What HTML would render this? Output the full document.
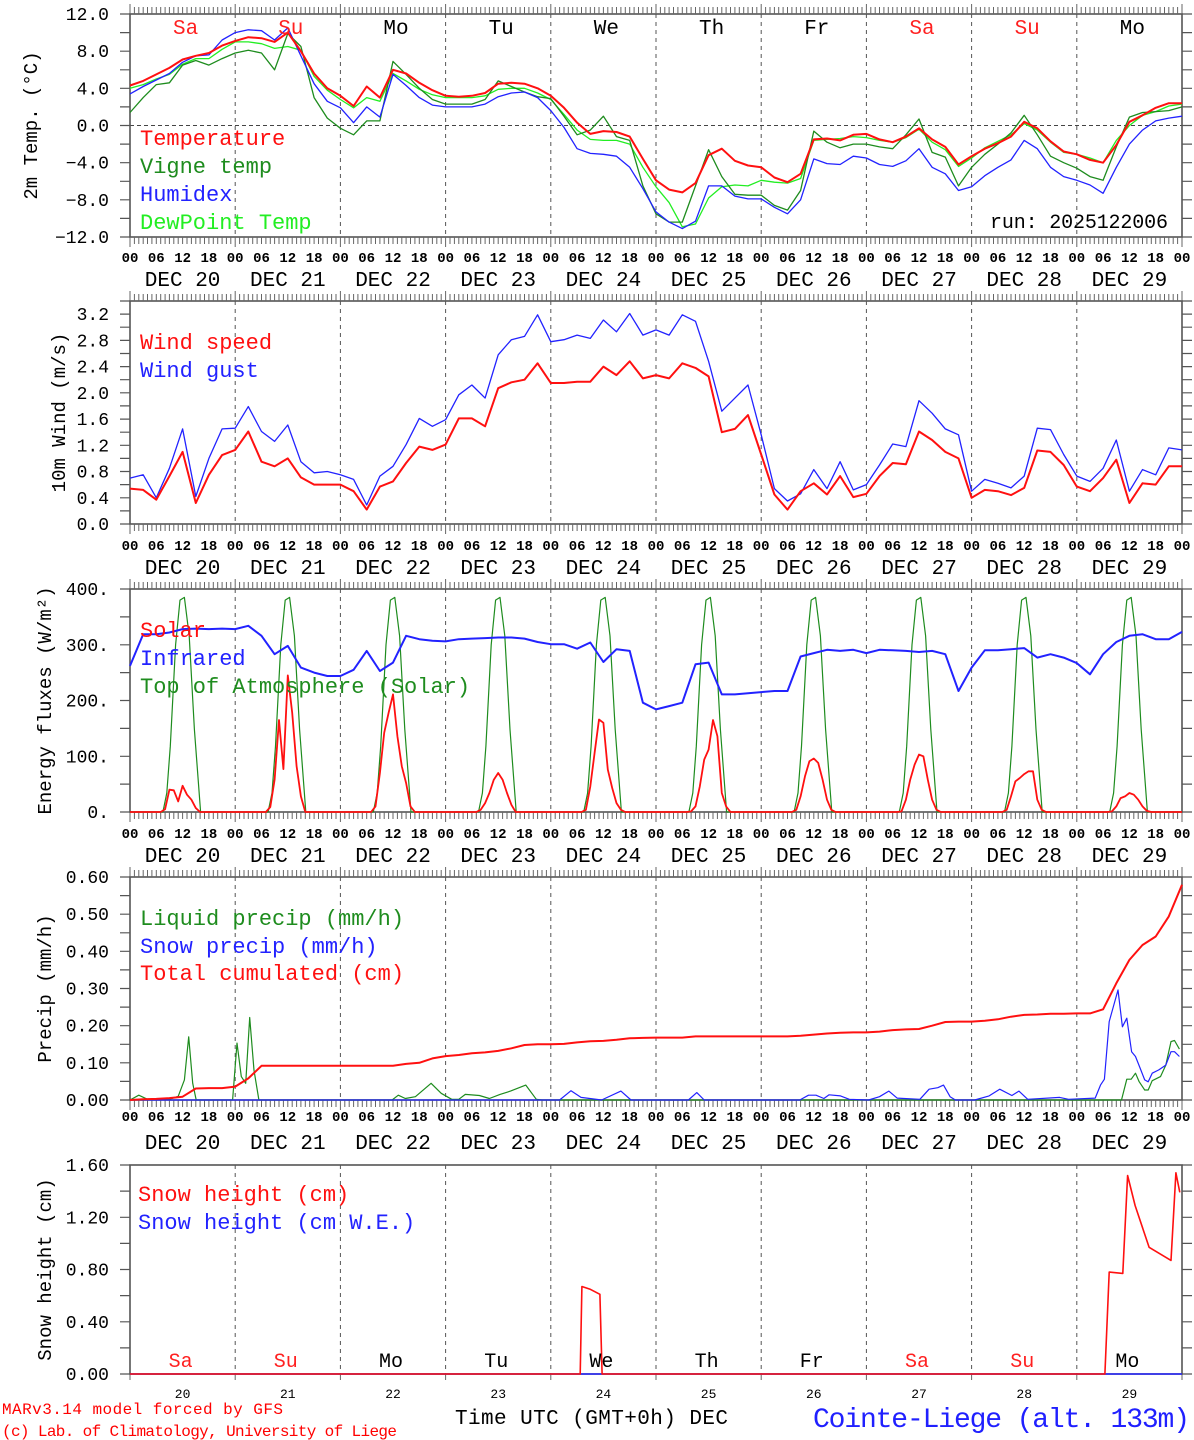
<!DOCTYPE html>
<html><head><meta charset="utf-8"><title>MAR meteogram Cointe-Liege</title>
<style>
html,body{margin:0;padding:0;background:#fff;}
svg{display:block;}
text{font-family:"Liberation Mono","DejaVu Sans Mono",monospace;}
</style></head>
<body>
<svg id="chart" xmlns="http://www.w3.org/2000/svg" width="1194" height="1440" viewBox="0 0 1194 1440">
<rect x="0" y="0" width="1194" height="1440" fill="#fff"/>
<text x="2" y="1414" font-size="16" fill="#ff0000" textLength="281">MARv3.14 model forced by GFS</text>
<text x="2" y="1436" font-size="16" fill="#ff0000" textLength="395">(c) Lab. of Climatology, University of Liege</text>
<text x="455" y="1424" font-size="21" fill="#000" textLength="273">Time UTC (GMT+0h) DEC</text>
<text x="813" y="1427" font-size="28" fill="#2020ff" textLength="377">Cointe-Liege (alt. 133m)</text>
<text x="990" y="228" font-size="20" fill="#000" textLength="178">run: 2025122006</text>
</svg>
<script>
// ---------- DATA (3-hourly, Dec 20 00 UTC -> Dec 30 00 UTC) ----------
const tempRed = [4.3,4.8,5.5,6.2,7.1,7.5,7.8,8.6, 9.1,9.5,9.4,9.0,10.0,8.0,5.6,4.0, 3.2,2.1,4.2,3.0,6.0,5.6,4.6,3.8, 3.2,3.1,3.2,3.5,4.5,4.6,4.5,4.0, 3.2,1.9,0.3,-0.9,-0.6,-0.7,-1.2,-3.6, -5.9,-6.9,-7.2,-6.2,-3.2,-2.5,-3.8,-4.3, -4.5,-5.6,-6.1,-5.2,-1.5,-1.4,-1.6,-1.0, -0.9,-1.5,-1.8,-1.2,-0.3,-1.5,-2.3,-4.2, -3.3,-2.5,-1.9,-1.2,0.4,-0.3,-1.7,-2.8, -3.1,-3.7,-4.0,-2.1,0.4,1.1,1.9,2.4,2.4];
const tempVigne = [1.4,3.0,4.4,4.6,6.5,7.0,6.5,7.2, 7.8,8.1,7.8,6.0,9.9,8.5,3.0,0.8, -0.3,-1.0,0.5,0.5,6.9,5.5,4.0,2.8, 2.3,2.3,2.3,2.8,4.8,4.2,3.6,3.1, 2.9,1.0,-1.0,-0.5,1.0,-1.2,-1.6,-6.5, -9.5,-10.4,-10.4,-6.5,-2.6,-5.5,-7.4,-7.5, -7.5,-8.6,-9.1,-7.0,-0.6,-1.8,-2.4,-2.0, -2.0,-2.3,-2.5,-1.0,0.7,-2.9,-3.4,-6.5, -4.5,-3.1,-2.0,-0.8,1.1,-1.0,-3.3,-4.0, -4.6,-5.5,-5.9,-2.3,0.9,1.4,1.5,1.6,2.0];
const tempHumidex = [3.4,4.2,4.9,5.6,6.8,7.5,7.6,9.2, 10.0,10.3,10.2,9.2,10.5,7.5,4.5,2.6, 1.9,0.3,2.0,0.9,5.5,4.3,3.0,2.2, 2.0,2.0,2.0,2.3,3.1,3.5,3.6,3.0, 1.6,-0.2,-2.5,-3.0,-3.1,-3.3,-4.5,-6.8, -9.3,-10.4,-11.1,-10.3,-6.5,-6.5,-7.6,-7.9, -7.9,-8.8,-9.5,-8.0,-3.6,-4.1,-4.2,-3.3, -3.5,-4.2,-4.4,-3.8,-2.5,-4.5,-5.2,-7.0, -6.6,-5.4,-4.5,-3.7,-1.6,-2.5,-4.5,-5.5, -5.9,-6.4,-7.3,-4.5,-2.0,-0.5,0.5,0.8,1.0];
const tempDew = [4.0,4.4,5.0,5.5,6.6,7.2,7.2,8.2, 9.0,9.0,8.8,8.3,8.5,8.1,5.3,3.8, 2.8,1.9,3.0,2.6,5.6,4.8,3.9,3.3, 3.0,3.0,3.0,3.2,3.9,4.0,4.0,3.5, 2.8,1.2,-0.5,-1.5,-1.6,-1.6,-2.0,-4.5, -6.6,-8.3,-10.9,-10.6,-7.8,-6.6,-6.4,-6.5, -5.9,-6.1,-6.2,-5.7,-1.6,-1.5,-1.4,-1.2, -1.3,-1.6,-1.8,-1.3,-0.4,-1.8,-2.6,-4.4, -3.5,-2.4,-1.7,-1.0,0.2,-0.5,-1.8,-2.9, -3.1,-3.5,-4.0,-1.6,0.0,1.1,1.5,2.1,2.3];
const windSpeed = [0.54,0.52,0.37,0.73,1.1,0.32,0.75,1.05, 1.13,1.41,0.95,0.88,1.0,0.71,0.6,0.6, 0.6,0.5,0.22,0.57,0.65,0.93,1.18,1.13, 1.21,1.61,1.61,1.49,2.07,2.16,2.2,2.45, 2.15,2.15,2.17,2.17,2.4,2.27,2.48,2.22, 2.27,2.22,2.45,2.38,2.25,1.4,1.45,1.66, 1.06,0.45,0.22,0.5,0.62,0.45,0.73,0.41, 0.46,0.73,0.93,0.91,1.41,1.28,1.1,1.0, 0.4,0.52,0.5,0.44,0.55,1.12,1.1,0.9, 0.57,0.5,0.7,0.98,0.32,0.62,0.6,0.88,0.88];
const windGust = [0.7,0.75,0.4,0.85,1.45,0.42,1.0,1.45, 1.46,1.79,1.41,1.26,1.51,0.95,0.78,0.8, 0.75,0.68,0.29,0.73,0.88,1.21,1.61,1.49, 1.59,1.97,2.12,1.92,2.58,2.81,2.86,3.19, 2.78,2.81,2.88,2.83,3.11,2.93,3.21,2.88, 2.96,2.88,3.19,3.09,2.48,1.72,1.92,2.12, 1.36,0.54,0.35,0.46,0.83,0.54,0.95,0.52, 0.6,0.9,1.22,1.18,1.88,1.69,1.45,1.36, 0.5,0.68,0.62,0.55,0.73,1.46,1.44,1.06, 0.73,0.65,0.85,1.28,0.5,0.83,0.75,1.16,1.13];
const infrared = [262,319,319,322,328,329,328,329, 328,334,316,283,298,259,250,244, 244,255,289,253,268,316,310,307, 306,310,311,312,313,313,311,305, 301,301,293,304,269,292,289,196, 184,190,196,265,268,211,211,213, 215,217,217,279,285,291,289,291, 285,291,290,289,287,289,283,217, 259,290,290,292,294,277,283,277, 267,247,283,305,316,319,310,310,323];
const precipCum = [0,0.002,0.003,0.005,0.009,0.031,0.032,0.032, 0.036,0.058,0.092,0.092,0.092,0.092,0.092,0.092, 0.092,0.092,0.092,0.092,0.092,0.097,0.100,0.112, 0.118,0.121,0.126,0.128,0.132,0.139,0.148,0.150, 0.150,0.151,0.155,0.158,0.159,0.162,0.166,0.167, 0.168,0.168,0.168,0.171,0.171,0.171,0.171,0.171, 0.171,0.171,0.171,0.173,0.176,0.179,0.181,0.182, 0.182,0.184,0.188,0.190,0.191,0.200,0.210,0.211, 0.211,0.213,0.217,0.224,0.229,0.230,0.232,0.232, 0.233,0.233,0.244,0.314,0.377,0.417,0.440,0.494,0.579];
// solar: hourly daylight values per day (hours 7..17)
const solarHours = [7,8,9,10,11,12,13,14,15,16,17];
const solarByDay = [
 [0,5,40,39,19,47,31,22,7,0,0],
 [0,9,58,165,77,245,178,82,28,0,0],
 [0,10,70,142,178,211,136,82,52,10,0],
 [0,4,16,34,58,70,58,34,13,0,0],
 [0,4,46,106,166,160,76,43,16,4,0],
 [0,1,10,46,94,112,165,136,34,10,0],
 [0,4,28,64,91,96,88,58,22,4,0],
 [0,1,22,58,85,103,100,58,22,4,0],
 [0,4,28,55,61,68,73,73,22,4,0],
 [0,1,10,25,28,34,31,22,10,2,0]];
// top of atmosphere solar: daily profile hours and values
const toaHours = [7.5,8.4,9.2,10.4,11.4,12.4,13.5,14.7,16.1];
const toaValues = [0,34,118,300,380,385,316,148,0];
// precip (hour since start, value)
const liqH = [0,2,4,9,11,12.4,13.4,14.3,15.1,23.4,24.4,25.4,26.4,27.3,28.3,29.4,59.8,61.2,62.8,65.1,68.7,71,73.4,75,76.5,79.7,82,84.4,86.8,90.3,92.7,94,226.2,227.4,228.4,229.4,230.2,231.5,232.3,233.2,235.1,236.3,237.5,238.3,239.4];
const liqV = [0,0.013,0.002,0.002,0.01,0.054,0.17,0.045,0,0,0.153,0.063,0.045,0.222,0.08,0,0,0.013,0.004,0.009,0.045,0.018,0.002,0.002,0.015,0.012,0.004,0.015,0.024,0.04,0.002,0,0,0.056,0.056,0.072,0.05,0.027,0.027,0.052,0.063,0.094,0.157,0.16,0.137];
const snowH = [0,98,100.6,102.9,107.6,112,114.3,127.4,129.3,131,152.8,154.8,156.5,158.3,159.5,162.1,164.1,168.5,171,173.1,175,180.2,182.3,184.3,185.6,187.1,188.3,192.7,196,198.4,201.2,202.8,204.8,212.1,214.1,220.2,221.4,222.3,223.4,225.4,226.4,227.4,228.5,229.4,230.6,231.5,232.3,233.2,234.7,236.3,237.5,238.3,239.4];
const snowV = [0,0,0.025,0.007,0,0.024,0,0,0.02,0,0,0.013,0.013,0.004,0.014,0.011,0.002,0,0.009,0.024,0.005,0.002,0.029,0.033,0.04,0.009,0,0,0.011,0.029,0.012,0.024,0.002,0.007,0.002,0.005,0.04,0.056,0.211,0.296,0.197,0.22,0.13,0.117,0.081,0.054,0.049,0.072,0.081,0.094,0.13,0.13,0.117];
// snow height (hour since start, cm)
const snowHtH = [0,102.7,103.1,104.9,107.2,107.7,222.4,223.4,226.5,227.6,229.3,232.5,237.5,238.6,239.5];
const snowHtV = [0,0,0.67,0.65,0.61,0,0,0.78,0.77,1.52,1.29,0.97,0.87,1.54,1.39];
const snowWeH = [0,240];
const snowWeV = [0,0];
const dayNames = ["Sa","Su","Mo","Tu","We","Th","Fr","Sa","Su","Mo"];
const dayNums = ["20","21","22","23","24","25","26","27","28","29"];
const hourTickLabels = ["00","06","12","18"];

// ---------- RENDERING ----------
const svg = document.getElementById('chart');
const NS = 'http://www.w3.org/2000/svg';
const X0 = 130, X1 = 1182, HOURS = 240;
function X(h){ return X0 + h*(X1-X0)/HOURS; }
function mk(tag, attrs, parent){
  const el = document.createElementNS(NS, tag);
  for (const k in attrs) el.setAttribute(k, attrs[k]);
  (parent||svg).appendChild(el);
  return el;
}
function tag(el, name){
  
  
  return el;
}
const panels = [
 {id:'temp', top:14, bot:237, min:-12, max:12, major:4, minor:2, fmt:v=>(v<0?'\u2212':'')+Math.abs(v).toFixed(1), hourY:262, dayY:286, title:'2m Temp. (\u00B0C)', titleX:32},
 {id:'wind', top:301, bot:524, min:0, max:3.4, major:0.4, minor:0.2, labelMax:3.2, fmt:v=>v.toFixed(1), hourY:550, dayY:574, title:'10m Wind (m/s)', titleX:60},
 {id:'energy', top:589, bot:812, min:0, max:400, major:100, minor:50, fmt:v=>v.toFixed(0)+'.', hourY:838, dayY:862, title:'Energy fluxes (W/m\u00B2)', titleX:46},
 {id:'precip', top:877, bot:1100, min:0, max:0.6, major:0.1, minor:0.05, fmt:v=>v.toFixed(2), hourY:1121, dayY:1149, title:'Precip (mm/h)', titleX:46},
 {id:'snow', top:1165, bot:1374, min:0, max:1.6, major:0.4, minor:0.2, fmt:v=>v.toFixed(2), hourY:null, dayY:null, title:'Snow height (cm)', titleX:46}
];
function Yf(p){ return v => p.bot - (v-p.min)/(p.max-p.min)*(p.bot-p.top); }

panels.forEach((p, pi) => {
  const Y = Yf(p);
  const g = tag(mk('g', {}), p.id + '-panel');
  // day separators
  for (let d=1; d<10; d++){
    const l = mk('line', {x1:X(d*24), x2:X(d*24), y1:p.top, y2:p.bot, stroke:'#555', 'stroke-width':1, 'stroke-dasharray':'4,4'}, g);
    tag(l, 'day-separator');
  }
  if (p.id==='temp'){
    const z = mk('line', {x1:X0, x2:X1, y1:Y(0), y2:Y(0), stroke:'#444', 'stroke-width':1, 'stroke-dasharray':'4,3'}, g);
    tag(z, 'zero-line');
  }
  // frame
  const fr = mk('rect', {x:X0, y:p.top, width:X1-X0, height:p.bot-p.top, fill:'none', stroke:'#555', 'stroke-width':1.6}, g);
  tag(fr, 'plot-frame');
  // x ticks
  let tk = '';
  for (let h=0; h<=HOURS; h++){
    const x = X(h).toFixed(1);
    const isDay = h%24===0;
    if (p.id==='snow'){
      if (isDay) tk += `M${x} ${p.bot}v6`;
      continue;
    }
    const len = isDay ? 10 : 7;
    tk += `M${x} ${p.bot}v${len}M${x} ${p.top}v${-len}`;
  }
  const tks = mk('path', {d:tk, stroke:'#666', 'stroke-width':1, fill:'none'}, g);
  tag(tks, 'x-axis-ticks');
  // y ticks
  let yt = '';
  const nMinor = Math.round((p.max-p.min)/p.minor);
  for (let i=0; i<=nMinor; i++){
    const v = p.min + i*p.minor;
    const y = Y(v).toFixed(1);
    yt += `M${X0} ${y}h-10M${X1} ${y}h10`;
  }
  const yts = mk('path', {d:yt, stroke:'#555', 'stroke-width':1.2, fill:'none'}, g);
  tag(yts, 'y-axis-ticks');
  const lmax = p.labelMax!==undefined ? p.labelMax : p.max;
  const nMaj = Math.round((lmax-p.min)/p.major);
  for (let i=0; i<=nMaj; i++){
    const v = p.min + i*p.major;
    const t = mk('text', {x:109, y:Y(v)+6, 'font-size':18, 'text-anchor':'end', fill:'#000'}, g);
    t.textContent = p.fmt(v);
    tag(t, 'y-tick-label');
  }
  // y title
  const cy = (p.top+p.bot)/2;
  const tt = mk('text', {x:p.titleX, y:cy, 'font-size':19, 'text-anchor':'middle', 'dominant-baseline':'middle', transform:`rotate(-90 ${p.titleX} ${cy})`, fill:'#000'}, g);
  tt.textContent = p.title;
  tag(tt, 'y-axis-title');
  // hour & date labels
  if (p.hourY){
    for (let h=0; h<=HOURS; h+=6){
      const t = mk('text', {x:X(h), y:p.hourY, 'font-size':14, 'font-weight':'bold', 'text-anchor':'middle', fill:'#000'}, g);
      t.textContent = hourTickLabels[(h/6)%4];
      tag(t, 'hour-tick-label');
    }
    for (let d=0; d<10; d++){
      const t = mk('text', {x:X(d*24+12), y:p.dayY, 'font-size':21, 'text-anchor':'middle', fill:'#000'}, g);
      t.textContent = 'DEC ' + dayNums[d];
      tag(t, 'date-label');
    }
  }
});

function poly3h(p, arr, color, w, name){
  const Y = Yf(p);
  const pts = arr.map((v,i)=>X(i*3).toFixed(1)+','+Y(v).toFixed(1)).join(' ');
  const el = mk('polyline', {points:pts, fill:'none', stroke:color, 'stroke-width':w, 'stroke-linejoin':'round'});
  tag(el, name);
}
function polyPairs(p, hs, vs, color, w, name){
  const Y = Yf(p);
  const pts = hs.map((h,i)=>X(h).toFixed(1)+','+Y(vs[i]).toFixed(1)).join(' ');
  const el = mk('polyline', {points:pts, fill:'none', stroke:color, 'stroke-width':w, 'stroke-linejoin':'round'});
  tag(el, name);
}
function legend(x, y, txt, color, name){
  const t = mk('text', {x:x, y:y+7, 'font-size':22, fill:color});
  t.textContent = txt;
  tag(t, name);
}
const RED='#ff1010', BLUE='#2222ff', DG='#1e8c1e', LG='#22ee22';

// Panel 1
const P1 = panels[0];
poly3h(P1, tempDew, LG, 1.3, 'dewpoint-line');
poly3h(P1, tempVigne, DG, 1.3, 'vigne-temp-line');
poly3h(P1, tempHumidex, BLUE, 1.3, 'humidex-line');
poly3h(P1, tempRed, RED, 2, 'temperature-line');
dayNames.forEach((n,d)=>{
  const t = mk('text', {x:X(d*24+12)+3, y:34, 'font-size':21, 'text-anchor':'middle', fill:(n==='Sa'||n==='Su')?'#ff2020':'#000', 'font-family':'Liberation Serif, serif'});
  t.textContent = n;
  tag(t, 'weekday-label');
});
legend(140,138,'Temperature',RED,'legend-temperature');
legend(140,166,'Vigne temp',DG,'legend-vigne-temp');
legend(140,194,'Humidex',BLUE,'legend-humidex');
legend(140,222,'DewPoint Temp',LG,'legend-dewpoint');

// Panel 2
const P2 = panels[1];
poly3h(P2, windGust, BLUE, 1.3, 'wind-gust-line');
poly3h(P2, windSpeed, RED, 2, 'wind-speed-line');
legend(140,342,'Wind speed',RED,'legend-wind-speed');
legend(140,370,'Wind gust',BLUE,'legend-wind-gust');

// Panel 3
const P3 = panels[2];
{
  const th=[0], tv=[0], sh=[0], sv=[0];
  for (let d=0; d<10; d++){
    toaHours.forEach((h,i)=>{ th.push(d*24+h); tv.push(toaValues[i]); });
    solarHours.forEach((h,i)=>{ sh.push(d*24+h); sv.push(solarByDay[d][i]); });
  }
  th.push(240); tv.push(0); sh.push(240); sv.push(0);
  polyPairs(P3, th, tv, DG, 1.2, 'toa-solar-line');
  poly3h(P3, infrared, BLUE, 2, 'infrared-line');
  polyPairs(P3, sh, sv, RED, 1.8, 'solar-line');
}
legend(140,630,'Solar',RED,'legend-solar');
legend(140,658,'Infrared',BLUE,'legend-infrared');
legend(140,686,'Top of Atmosphere (Solar)',DG,'legend-toa');

// Panel 4
const P4 = panels[3];
polyPairs(P4, liqH, liqV, DG, 1.2, 'liquid-precip-line');
polyPairs(P4, snowH, snowV, BLUE, 1.2, 'snow-precip-line');
poly3h(P4, precipCum, RED, 2, 'total-cumulated-line');
legend(140,918,'Liquid precip (mm/h)',DG,'legend-liquid-precip');
legend(140,946,'Snow precip (mm/h)',BLUE,'legend-snow-precip');
legend(140,973,'Total cumulated (cm)',RED,'legend-total-cumulated');

// Panel 5
const P5 = panels[4];
polyPairs(P5, snowWeH, snowWeV, BLUE, 1.5, 'snow-we-line');
polyPairs(P5, snowHtH, snowHtV, RED, 1.6, 'snow-height-line');
legend(138,1194,'Snow height (cm)',RED,'legend-snow-height');
legend(138,1222,'Snow height (cm W.E.)',BLUE,'legend-snow-we');
dayNames.forEach((n,d)=>{
  const t = mk('text', {x:X(d*24+12)-2, y:1367, 'font-size':20, 'text-anchor':'middle', fill:(n==='Sa'||n==='Su')?'#ff2020':'#000', 'font-family':'Liberation Serif, serif'});
  t.textContent = n;
  tag(t, 'weekday-label');
});
dayNums.forEach((n,d)=>{
  const t = mk('text', {x:X(d*24+12), y:1398, 'font-size':13, 'text-anchor':'middle', fill:'#000', 'font-family':'Liberation Sans, sans-serif'});
  t.textContent = n;
  tag(t, 'day-number-label');
});
</script>
</body></html>
